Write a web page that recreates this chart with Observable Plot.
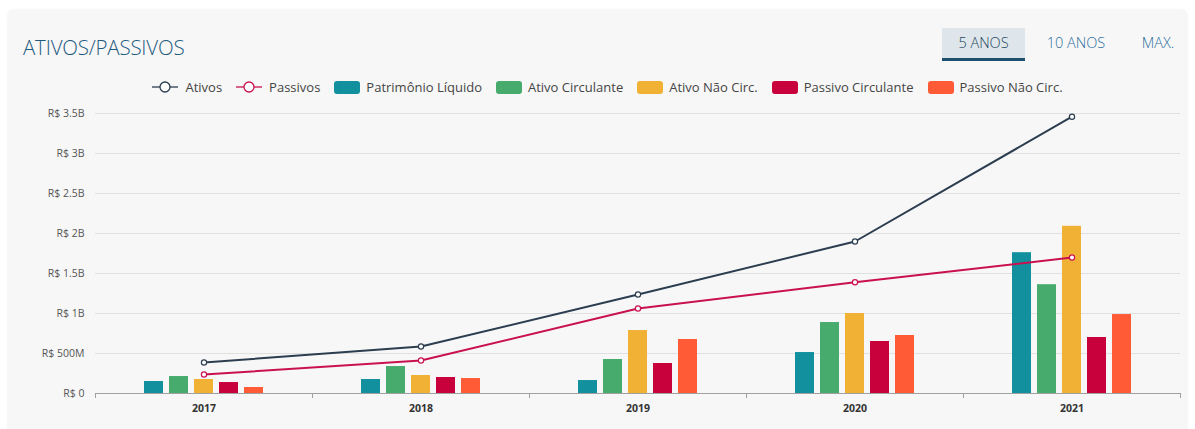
<!DOCTYPE html>
<html>
<head>
<meta charset="utf-8">
<script src="https://cdn.jsdelivr.net/npm/d3@7"></script>
<script src="https://cdn.jsdelivr.net/npm/@observablehq/plot@0.6"></script>
<style>
  html, body { margin: 0; padding: 0; background: #ffffff; }
  body { width: 1195px; height: 429px; position: relative; overflow: hidden; font-family: "Open Sans", "Noto Sans", sans-serif; }
  #card { position: absolute; left: 8px; top: 10px; width: 1179px; height: 440px; background: #f7f7f7; border-radius: 6px; box-shadow: 0 0 3px rgba(0,0,0,0.08); }
  #title { position: absolute; left: 23px; top: 33px; font-size: 20.5px; color: #1f5b80; font-weight: 300; letter-spacing: -0.2px; }
  .btn { position: absolute; top: 28px; height: 30px; line-height: 30px; font-size: 14.5px; text-align: center; color: #2a6e9e; font-weight: 300; }
  #b5 { left: 942px; width: 83px; background: #dfe6eb; color: #24465e; border-bottom: 3px solid #1e4f6e; }
  #b10 { left: 1040px; width: 72px; }
  #bmax { left: 1134px; width: 48px; }
  #legend { position: absolute; left: 0; width: 1215px; top: 78px; display: flex; justify-content: center; align-items: center; font-size: 13px; color: #454545; }
  .item { display: flex; align-items: center; margin: 0 7px; }
  .sw { width: 26px; height: 13px; border-radius: 3px; margin-right: 6px; }
  .ln { margin-right: 7px; }
  #chart { position: absolute; left: 0; top: 100px; }
</style>
</head>
<body>
<div id="card"></div>
<div id="title">ATIVOS/PASSIVOS</div>
<div class="btn" id="b5">5 ANOS</div>
<div class="btn" id="b10">10 ANOS</div>
<div class="btn" id="bmax">MAX.</div>
<div id="legend"></div>
<div id="chart"></div>
<script>
// ---- data ----
const years = ["2017", "2018", "2019", "2020", "2021"];
const patrimonioLiquido = [150e6, 175e6, 162e6, 512e6, 1760e6];
const ativoCirculante = [212e6, 337e6, 425e6, 887e6, 1360e6];
const ativoNaoCirc = [175e6, 225e6, 787e6, 1000e6, 2090e6];
const passivoCirculante = [137e6, 200e6, 375e6, 650e6, 700e6];
const passivoNaoCirc = [75e6, 187e6, 675e6, 725e6, 987e6];
const ativos = [387e6, 587e6, 1237e6, 1900e6, 3460e6];
const passivos = [237e6, 412e6, 1062e6, 1390e6, 1700e6];
const yTicks = [0, 5e8, 1e9, 1.5e9, 2e9, 2.5e9, 3e9, 3.5e9];

const barSeries = [
  {name: "Patrimônio Líquido", values: patrimonioLiquido, color: "#12909e"},
  {name: "Ativo Circulante", values: ativoCirculante, color: "#46ab6d"},
  {name: "Ativo Não Circ.", values: ativoNaoCirc, color: "#f1b135"},
  {name: "Passivo Circulante", values: passivoCirculante, color: "#c8003b"},
  {name: "Passivo Não Circ.", values: passivoNaoCirc, color: "#ff5b36"}
];
const lineSeries = [
  {name: "Ativos", values: ativos, color: "#2b3d4f"},
  {name: "Passivos", values: passivos, color: "#c9114f"}
];

// ---- legend ----
const legend = document.getElementById("legend");
for (const s of lineSeries) {
  const it = document.createElement("div"); it.className = "item";
  it.innerHTML = `<svg class="ln" width="26" height="14"><line x1="0" x2="26" y1="7" y2="7" stroke="${s.color}" stroke-width="1.3"/><circle cx="13" cy="7" r="5" fill="#fff" stroke="${s.color}" stroke-width="1.3"/></svg><span>${s.name}</span>`;
  legend.appendChild(it);
}
for (const s of barSeries) {
  const it = document.createElement("div"); it.className = "item";
  it.innerHTML = `<div class="sw" style="background:${s.color}"></div><span>${s.name}</span>`;
  legend.appendChild(it);
}

// ---- chart ----
const W = 1195, H = 329, ml = 95, mr = 15, mt = 13, mb = 36;
const bw = (W - ml - mr) / years.length;
const barW = 19, step = 25;
const groupW = step * (barSeries.length - 1) + barW;

const fmt = v => v === 0 ? "R$ 0" : v < 1e9 ? `R$ ${v / 1e6}M` : `R$ ${v / 1e9}B`;

const barMarks = barSeries.map((s, i) => {
  const left = (bw - groupW) / 2 + i * step;
  return Plot.barY(years.map((y, j) => ({year: y, value: s.values[j]})), {
    x: "year", y: "value", fill: s.color,
    insetLeft: left, insetRight: bw - left - barW
  });
});

const lineMarks = lineSeries.flatMap(s => {
  const data = years.map((y, j) => ({year: y, value: s.values[j]}));
  return [
    Plot.line(data, {x: "year", y: "value", stroke: s.color, strokeWidth: 2}),
    Plot.dot(data, {x: "year", y: "value", r: 2.6, fill: "#fff", stroke: s.color, strokeWidth: 1.2})
  ];
});

const chart = Plot.plot({
  width: W, height: H,
  marginLeft: ml, marginRight: mr, marginTop: mt, marginBottom: mb,
  style: {background: "transparent", fontFamily: "'Open Sans', 'Noto Sans', sans-serif", overflow: "visible"},
  x: {domain: years, padding: 0, label: null},
  y: {domain: [0, 3.5e9], label: null},
  marks: [
    Plot.gridY(yTicks, {stroke: "#e0e0e0", strokeOpacity: 1}),
    Plot.axisY(yTicks, {tickSize: 0, tickPadding: 11, tickFormat: fmt, fontSize: 10.5, fill: "#555", label: null}),
    ...barMarks,
    Plot.ruleY([0], {stroke: "#a0a0a0", strokeWidth: 1.2}),
    Plot.axisX({tickSize: 0, tickPadding: 11, fontSize: 10.5, fontWeight: "bold", fill: "#333", label: null}),
    Plot.axisX(years, {tickSize: 5, tickFormat: () => "", dx: -bw / 2, stroke: "#a0a0a0", label: null}),
    Plot.axisX([years[years.length - 1]], {tickSize: 5, tickFormat: () => "", dx: bw / 2, stroke: "#a0a0a0", label: null}),
    ...lineMarks
  ]
});
document.getElementById("chart").appendChild(chart);
</script>
</body>
</html>
